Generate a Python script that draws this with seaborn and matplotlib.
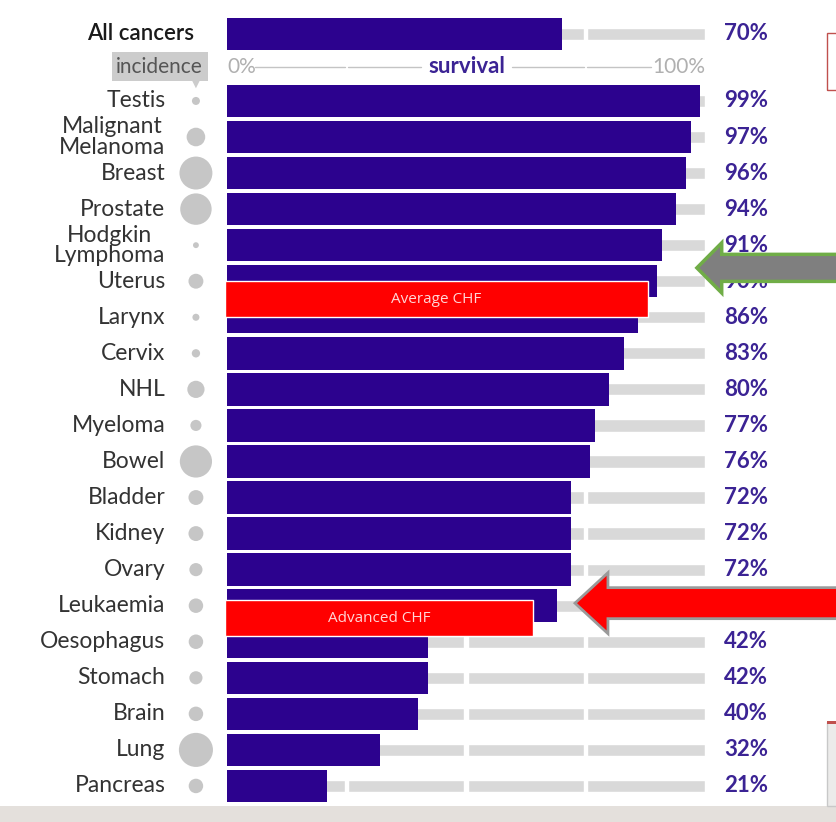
import numpy as np
import pandas as pd
import matplotlib
matplotlib.use("Agg")
import matplotlib.pyplot as plt
from matplotlib.patches import FancyArrow, Rectangle
import seaborn as sns

# ---- data -------------------------------------------------------------
cancers = ["Testis", "Malignant\nMelanoma", "Breast", "Prostate", "Hodgkin\nLymphoma",
           "Uterus", "Larynx", "Cervix", "NHL", "Myeloma", "Bowel", "Bladder",
           "Kidney", "Ovary", "Leukaemia", "Oesophagus", "Stomach", "Brain",
           "Lung", "Pancreas"]
survival = [99, 97, 96, 94, 91, 90, 86, 83, 80, 77, 76, 72, 72, 72, 69, 42, 42, 40, 32, 21]
# new cases per year (thousands) -> circle area
incidence = [2.6, 14.0, 44.0, 40.0, 1.4, 9.0, 2.0, 2.8, 12.0, 5.0, 42.0, 9.0,
             9.0, 7.0, 8.5, 8.5, 7.0, 8.5, 47.0, 8.5]
all_label = "All cancers"
all_survival = 70

chf_labels = ["Average CHF", "Advanced CHF"]
chf_survival = [88, 64]

# ---- style -----------------------------------------------------------
sns.set_theme(style="white")
plt.rcParams["font.family"] = ["Lato", "DejaVu Sans"]

PURPLE = "#2c028e"
LABEL_PURPLE = "#3b2394"
TRACK = "#d9d9d9"
DOT = "#c6c6c6"
TEXT = "#333333"

XLIM = (-47.49, 127.41)
YLIM = (22.0, -0.80)

fig = plt.figure(figsize=(8.36, 8.22), dpi=100)
ax = fig.add_axes([0, 0, 1, 1])

# row positions (the "All cancers" summary row sits on top, then the header)
rows = np.arange(len(cancers)) + 2.0
all_row = 0.14
head_row = 1.05

df = pd.DataFrame({"cancer": cancers, "survival": survival, "row": rows,
                   "incidence": incidence})
df_all = pd.DataFrame({"cancer": [all_label], "survival": [all_survival], "row": [all_row]})
df_bars = pd.concat([df_all, df[["cancer", "survival", "row"]]], ignore_index=True)

# segmented grey survival tracks (0-100 in quarters)
segs = [(0, 24.6), (25.4, 24.2), (50.4, 24.2), (75.4, 24.6)]
for r in df_bars["row"]:
    ax.broken_barh(segs, (r - 0.17, 0.34), facecolors=TRACK, zorder=1)

# survival bars
sns.barplot(data=df_bars, x="survival", y="row", orient="h", native_scale=True,
            color=PURPLE, saturation=1, width=0.9, linewidth=0,
            edgecolor=PURPLE, ax=ax, zorder=2)

# incidence circles
k = 12.8
sns.scatterplot(data=df, x=np.full(len(df), -6.5), y="row", size="incidence",
                sizes=(k * df["incidence"].min(), k * df["incidence"].max()),
                color=DOT, edgecolor="none", legend=False, ax=ax, zorder=3)

ax.set_xlim(*XLIM)
ax.set_ylim(*YLIM)
ax.axis("off")

# category labels and survival values
for name, val, r in zip(df["cancer"], df["survival"], df["row"]):
    ax.text(-12.9, r, name, ha="right", va="center", fontsize=16.5, color=TEXT,
            linespacing=0.95, multialignment="center", zorder=4)
    ax.text(104.0, r, f"{val}%", ha="left", va="center", fontsize=16,
            fontweight="bold", color=LABEL_PURPLE, zorder=4)
ax.text(-7.0, all_row, all_label, ha="right", va="center", fontsize=16,
        fontweight="semibold", color="#1a1a1a", zorder=4)
ax.text(104.0, all_row, f"{all_survival}%", ha="left", va="center", fontsize=16,
        fontweight="bold", color=LABEL_PURPLE, zorder=4)

# header: incidence tag and survival scale
ax.text(-14.1, head_row, "incidence", ha="center", va="center", fontsize=15,
        color="#555555", zorder=4,
        bbox=dict(boxstyle="square,pad=0.22", fc="#cccccc", ec="none"))
ax.scatter([-6.5], [head_row + 0.47], marker="v", s=45, color="#cccccc",
           edgecolor="none", zorder=4)
ax.text(0, head_row, "0%", ha="left", va="center", fontsize=15, color="#b0b0b0")
ax.text(100, head_row, "100%", ha="right", va="center", fontsize=15, color="#b0b0b0")
ax.text(50.2, head_row, "survival", ha="center", va="center", fontsize=16,
        fontweight="bold", color=LABEL_PURPLE)
for x0, x1 in [(5.8, 24.6), (25.4, 40.6), (59.6, 74.6), (75.4, 88.8)]:
    ax.plot([x0, x1], [head_row, head_row], color="#c4c4c4", lw=1.0, zorder=1)

# heart-failure comparison boxes
chf_rows = [7.5, 16.35]
for lab, val, r in zip(chf_labels, chf_survival, chf_rows):
    ax.barh(r, val + 0.5, left=-0.5, height=1.0, color="#ff0000", zorder=5)
    ax.text((val - 0.5) / 2, r, lab, ha="center", va="center", fontsize=11,
            color="#ffd6d6", family=["Open Sans", "DejaVu Sans"], zorder=6)

# arrows pointing at the comparison rows
ax.add_patch(FancyArrow(130, 6.63, -31.7, 0, width=0.75, head_width=1.39,
                        head_length=5.2, length_includes_head=True,
                        fc="#7f7f7f", ec="#70ad47", lw=2.5, zorder=7))
ax.add_patch(FancyArrow(130, 15.93, -57.2, 0, width=0.86, head_width=1.69,
                        head_length=6.9, length_includes_head=True,
                        fc="#ff0000", ec="#9a9a9a", lw=2.0, zorder=7))

# slide surroundings
fig.patches.append(Rectangle((0, 0), 1, 16 / 822, transform=fig.transFigure,
                             fc="#e4e0dc", ec="none", zorder=0))
fig.patches.append(Rectangle((827 / 836, 1 - 90 / 822), 20 / 836, 57 / 822,
                             transform=fig.transFigure, fc="none", ec="#c0504d",
                             lw=1.0, zorder=0))
fig.patches.append(Rectangle((827 / 836, 16 / 822), 10 / 836, (822 - 722 - 16) / 822,
                             transform=fig.transFigure, fc="#ecebea", ec="#c8c8c8",
                             lw=1.0, zorder=0))
fig.patches.append(Rectangle((827 / 836, 1 - 724 / 822), 10 / 836, 3 / 822,
                             transform=fig.transFigure, fc="#c0504d", ec="none",
                             zorder=0))

fig.savefig("out.png", dpi=100, facecolor="white")
